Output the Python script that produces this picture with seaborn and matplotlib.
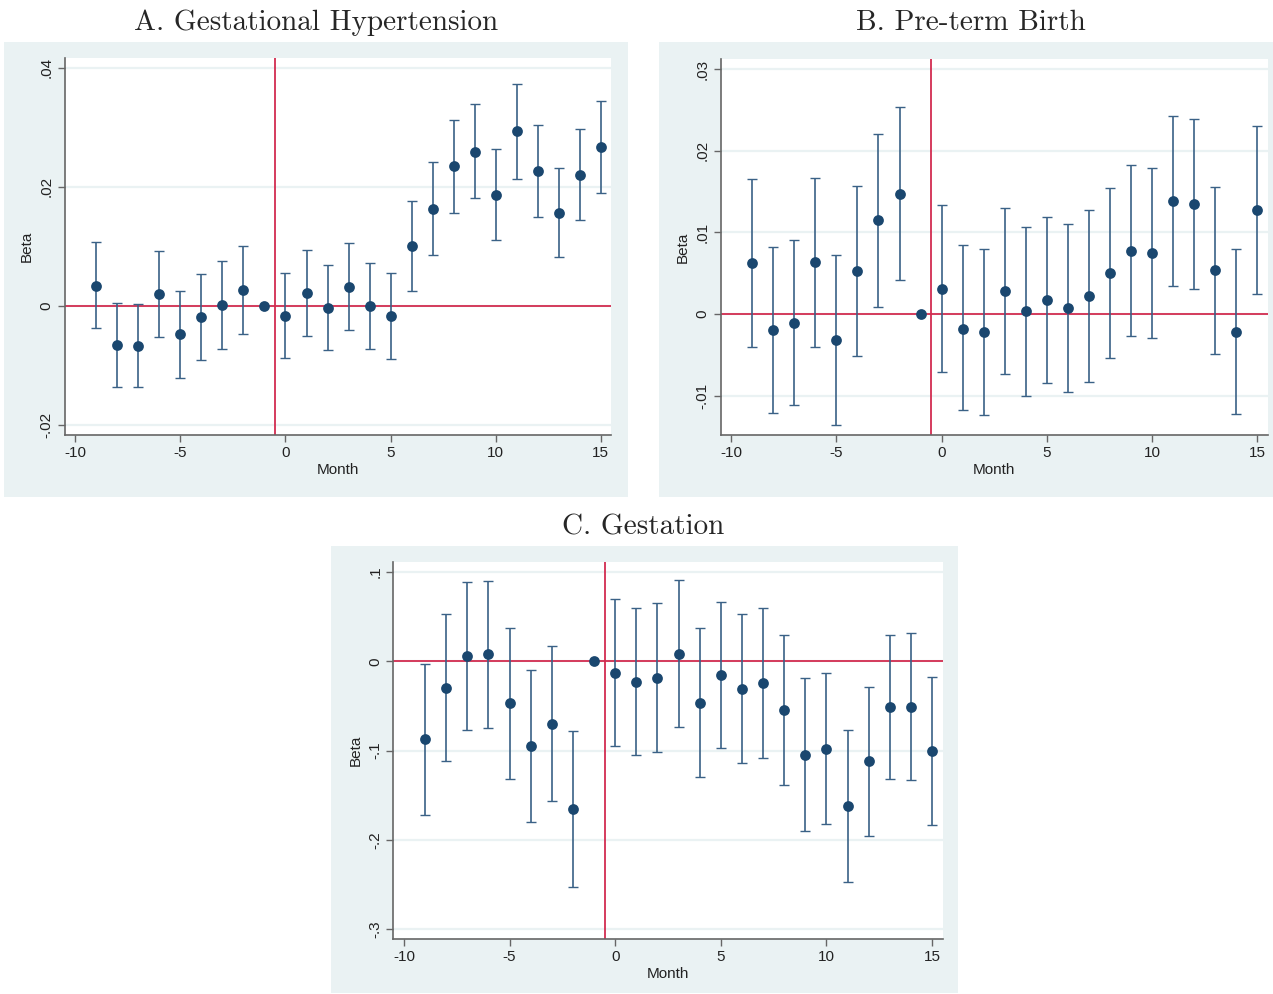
import matplotlib
matplotlib.use('Agg')
import matplotlib.pyplot as plt
import numpy as np
import pandas as pd
import seaborn as sns

sns.set_style('white')
plt.rcParams['font.family'] = ['Liberation Sans', 'DejaVu Sans']

# Event time (months)
months = list(range(-9, 16))

# A. Gestational Hypertension
beta_a = [0.0034, -0.0066, -0.0068, 0.0019, -0.0048, -0.0019, 0.0001, 0.0026, 0.0,
          -0.0017, 0.0021, -0.0003, 0.0032, 0.0, -0.0017, 0.0100, 0.0163, 0.0235,
          0.0259, 0.0186, 0.0293, 0.0227, 0.0156, 0.0219, 0.0266]
hi_a = [0.0108, 0.0005, 0.0003, 0.0092, 0.0024, 0.0053, 0.0075, 0.0101, 0.0,
        0.0055, 0.0094, 0.0069, 0.0105, 0.0072, 0.0055, 0.0176, 0.0242, 0.0313,
        0.0339, 0.0264, 0.0372, 0.0304, 0.0231, 0.0297, 0.0344]
lo_a = [-0.0038, -0.0136, -0.0137, -0.0053, -0.0121, -0.0091, -0.0073, -0.0047, 0.0,
        -0.0088, -0.0051, -0.0074, -0.0041, -0.0073, -0.0089, 0.0025, 0.0086, 0.0156,
        0.0181, 0.0110, 0.0213, 0.0150, 0.0082, 0.0144, 0.0189]

# B. Pre-term Birth
beta_b = [0.0062, -0.0020, -0.0011, 0.0063, -0.0032, 0.0053, 0.0115, 0.0147, 0.0,
          0.0031, -0.0018, -0.0022, 0.0028, 0.0003, 0.0017, 0.0007, 0.0022, 0.0050,
          0.0077, 0.0074, 0.0138, 0.0135, 0.0054, -0.0022, 0.0127]
hi_b = [0.0165, 0.0082, 0.0091, 0.0166, 0.0072, 0.0157, 0.0221, 0.0253, 0.0,
        0.0133, 0.0084, 0.0079, 0.0130, 0.0106, 0.0119, 0.0110, 0.0127, 0.0154,
        0.0182, 0.0179, 0.0243, 0.0239, 0.0156, 0.0080, 0.0230]
lo_b = [-0.0040, -0.0121, -0.0112, -0.0040, -0.0136, -0.0051, 0.0009, 0.0042, 0.0,
        -0.0071, -0.0118, -0.0124, -0.0074, -0.0100, -0.0085, -0.0096, -0.0083, -0.0054,
        -0.0027, -0.0030, 0.0034, 0.0031, -0.0049, -0.0123, 0.0024]

# C. Gestation
beta_c = [-0.0875, -0.0299, 0.0064, 0.0079, -0.0471, -0.0946, -0.0699, -0.1660, 0.0,
          -0.0127, -0.0228, -0.0183, 0.0086, -0.0464, -0.0153, -0.0310, -0.0247, -0.0546,
          -0.1050, -0.0979, -0.1622, -0.1121, -0.0512, -0.0508, -0.1009]
hi_c = [-0.0026, 0.0527, 0.0893, 0.0905, 0.0378, -0.0093, 0.0168, -0.0785, 0.0,
        0.0699, 0.0602, 0.0650, 0.0908, 0.0370, 0.0669, 0.0527, 0.0598, 0.0295,
        -0.0191, -0.0131, -0.0770, -0.0284, 0.0299, 0.0321, -0.0179]
lo_c = [-0.1720, -0.1121, -0.0766, -0.0744, -0.1323, -0.1802, -0.1563, -0.2531, 0.0,
        -0.0950, -0.1054, -0.1017, -0.0733, -0.1293, -0.0972, -0.1144, -0.1088, -0.1383,
        -0.1903, -0.1821, -0.2471, -0.1955, -0.1316, -0.1335, -0.1836]

titles = ['A. Gestational Hypertension', 'B. Pre-term Birth', 'C. Gestation']
yticks_a = [-0.02, 0, 0.02, 0.04]
ylabels_a = ['-.02', '0', '.02', '.04']
yticks_b = [-0.01, 0, 0.01, 0.02, 0.03]
ylabels_b = ['-.01', '0', '.01', '.02', '.03']
yticks_c = [-0.3, -0.2, -0.1, 0, 0.1]
ylabels_c = ['-.3', '-.2', '-.1', '0', '.1']
xticks = [-10, -5, 0, 5, 10, 15]

panels = [
    (beta_a, hi_a, lo_a, yticks_a, ylabels_a, (-0.0217, 0.0416),
     [0.0028, 0.500, 0.4902, 0.4581], [0.0509, 0.5625, 0.4293, 0.3789], (0.2485, 0.977)),
    (beta_b, hi_b, lo_b, yticks_b, ylabels_b, (-0.0148, 0.0312),
     [0.5177, 0.500, 0.4823, 0.4577], [0.5661, 0.5627, 0.4298, 0.3777], (0.7628, 0.977)),
    (beta_c, hi_c, lo_c, yticks_c, ylabels_c, (-0.311, 0.1114),
     [0.2600, 0.001, 0.4925, 0.4497], [0.3090, 0.0556, 0.4315, 0.3790], (0.5051, 0.469)),
]

bg = '#eaf2f3'
navy = '#1a476f'
bar_col = '#3a6186'
red = '#d22c50'
axis_col = '#666666'

fig = plt.figure(figsize=(12.73, 9.94), dpi=100)

for i, (beta, hi, lo, yt, yl, ylim, bg_rect, ax_rect, tpos) in enumerate(panels):
    df = pd.DataFrame({'Month': months, 'Beta': beta, 'hi': hi, 'lo': lo})

    # background box
    bax = fig.add_axes(bg_rect)
    bax.set_facecolor(bg)
    bax.set_xticks([])
    bax.set_yticks([])
    for s in bax.spines.values():
        s.set_visible(False)

    ax = fig.add_axes(ax_rect)
    ax.set_facecolor('white')
    ax.set_xlim(-10.5, 15.5)
    ax.set_ylim(*ylim)

    for v in yt:
        ax.axhline(v, color=bg, lw=1.6, zorder=0)

    ax.axhline(0, color=red, lw=1.3, zorder=1)
    ax.axvline(-0.5, color=red, lw=1.3, zorder=1)

    ci = df[df['hi'] != df['lo']]
    ax.errorbar(ci['Month'], ci['Beta'],
                yerr=[ci['Beta'] - ci['lo'], ci['hi'] - ci['Beta']],
                fmt='none', ecolor=bar_col, elinewidth=1.2, capsize=3.6,
                capthick=1.0, zorder=2)
    sns.scatterplot(data=df, x='Month', y='Beta', ax=ax, color=navy, s=60,
                    edgecolor=navy, linewidth=0, zorder=3)

    ax.set_xticks(xticks)
    ax.set_xticklabels([str(x) for x in xticks], fontsize=11)
    ax.set_yticks(yt)
    ax.set_yticklabels(yl, fontsize=11, rotation=90, va='center')
    ax.tick_params(axis='both', direction='out', length=5, width=1,
                   color=axis_col, labelcolor='#222222', pad=3)
    ax.tick_params(axis='x', bottom=True)
    ax.tick_params(axis='y', left=True)

    for s in ['top', 'right']:
        ax.spines[s].set_visible(False)
    for s in ['left', 'bottom']:
        ax.spines[s].set_color(axis_col)
        ax.spines[s].set_linewidth(1.2)

    ax.set_xlabel('Month', fontsize=11, color='#222222', labelpad=2)
    ax.set_ylabel('Beta', fontsize=11, color='#222222', labelpad=4)

    fig.text(tpos[0], tpos[1], titles[i], family='cmr10', fontsize=21,
             ha='center', va='center')

plt.savefig('out.png', dpi=100)
plt.close()
